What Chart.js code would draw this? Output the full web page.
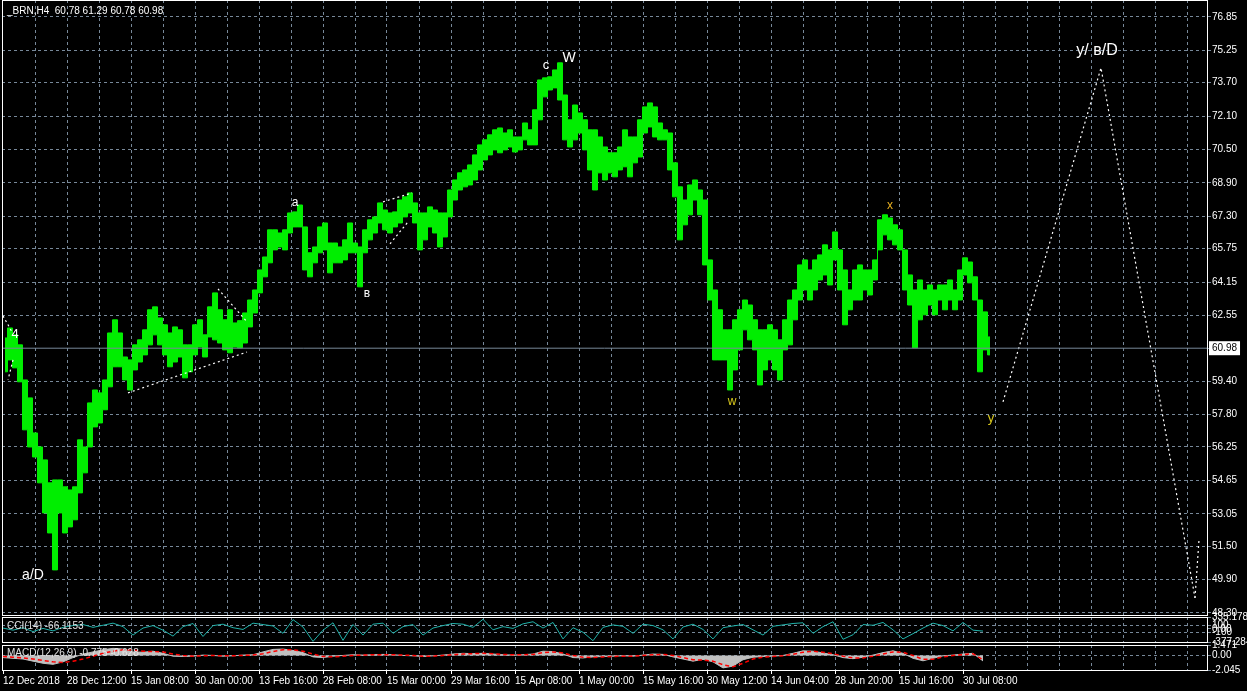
<!DOCTYPE html>
<html>
<head>
<meta charset="utf-8">
<script src="https://cdn.jsdelivr.net/npm/chart.js@4.4.1/dist/chart.umd.min.js"></script>
<style>
    html, body { margin: 0; padding: 0; background: #000; overflow: hidden; }
    body { width: 1247px; height: 691px; position: relative; }
    canvas { position: absolute; left: 0; }
</style>
</head>
<body>
<canvas id="mainChart" width="1247" height="616" style="top:0"></canvas>
<canvas id="cciChart" width="1247" height="45" style="top:605px"></canvas>
<canvas id="macdChart" width="1247" height="59" style="top:632px"></canvas>
<script>
// ---- data ----
// one sample = 5 H4 bars, price high / low of that group
const barStep = 5;
const highs = [
    61.47, 61.95, 61.62, 61.14, 59.46, 58.60, 56.92, 56.25, 55.63, 54.53,
    54.67, 54.67, 54.34, 54.19, 54.34, 56.59, 56.25, 58.36, 58.98, 58.84,
    59.46, 61.71, 62.34, 61.71, 60.56, 60.42, 61.14, 61.38, 61.86, 62.82,
    62.96, 62.43, 62.10, 61.71, 62.00, 61.86, 61.14, 61.14, 62.10, 62.34,
    61.62, 62.96, 63.63, 62.82, 62.34, 62.82, 62.19, 62.30, 62.67, 63.29,
    63.77, 64.73, 65.35, 66.65, 66.65, 66.50, 66.65, 67.46, 67.51, 67.84,
    66.79, 65.55, 65.83, 66.79, 66.98, 66.02, 66.02, 65.83, 66.17, 66.98,
    66.02, 65.83, 66.65, 67.13, 67.27, 67.94, 67.60, 67.46, 67.51, 68.08,
    68.23, 68.42, 67.94, 67.46, 67.46, 67.75, 67.60, 67.46, 67.46, 68.56,
    69.04, 69.38, 69.52, 69.76, 70.24, 70.72, 70.96, 71.20, 71.44, 71.53,
    71.29, 71.44, 71.10, 71.10, 71.77, 71.44, 72.40, 73.83, 73.93, 73.98,
    74.31, 74.65, 73.11, 71.92, 72.63, 72.25, 71.92, 71.44, 71.44, 71.10,
    70.62, 70.34, 70.34, 70.62, 71.44, 71.10, 71.10, 71.92, 72.54, 72.73,
    72.54, 71.77, 71.44, 71.29, 69.86, 68.71, 68.08, 68.80, 69.04, 68.56,
    68.08, 65.21, 63.77, 62.82, 61.86, 61.86, 62.34, 62.82, 63.29, 63.05,
    62.34, 61.86, 61.86, 62.10, 61.86, 61.38, 62.34, 63.29, 63.77, 64.97,
    65.21, 64.73, 65.21, 65.45, 65.93, 65.69, 66.55, 65.69, 64.73, 63.77,
    64.73, 64.97, 64.73, 64.73, 65.21, 67.13, 67.37, 67.22, 66.89, 66.65,
    65.69, 64.49, 63.77, 64.25, 63.77, 64.01, 63.77, 64.01, 64.01, 64.25,
    63.77, 64.73, 65.31, 65.11, 64.40, 63.29, 62.72, 61.52
];
const lows = [
    59.85, 60.42, 60.04, 59.37, 57.07, 56.25, 55.77, 54.53, 53.09, 52.13,
    50.36, 53.09, 52.13, 52.42, 52.76, 54.05, 55.01, 56.25, 57.21, 57.40,
    58.03, 59.13, 60.09, 60.09, 59.46, 58.98, 59.94, 60.32, 60.66, 61.14,
    61.62, 61.14, 60.66, 60.09, 60.32, 60.56, 59.56, 59.85, 60.66, 61.04,
    60.56, 61.52, 61.38, 61.23, 60.90, 60.76, 61.04, 61.00, 61.23, 62.00,
    62.67, 63.63, 64.40, 65.07, 65.69, 65.83, 65.69, 66.50, 66.79, 66.79,
    64.73, 64.40, 65.07, 65.55, 65.69, 64.59, 65.07, 65.07, 65.21, 65.55,
    65.55, 63.92, 65.55, 66.17, 66.50, 66.98, 66.65, 66.50, 66.79, 66.98,
    67.27, 67.46, 66.98, 65.69, 66.17, 66.79, 66.50, 65.83, 66.31, 67.27,
    68.08, 68.56, 68.71, 68.80, 69.04, 69.52, 70.00, 70.24, 70.48, 70.34,
    70.48, 70.62, 70.38, 70.48, 70.96, 70.72, 70.72, 71.92, 73.02, 73.35,
    73.45, 72.87, 70.96, 70.62, 70.96, 71.29, 70.48, 69.52, 68.56, 69.38,
    69.04, 69.38, 69.19, 69.52, 69.67, 69.19, 69.86, 70.14, 71.29, 71.58,
    71.10, 70.96, 70.96, 69.52, 68.23, 66.17, 66.89, 67.37, 68.08, 67.37,
    64.97, 63.29, 60.42, 60.42, 60.42, 58.98, 59.94, 60.90, 61.86, 61.38,
    60.90, 59.22, 59.94, 60.42, 59.94, 59.46, 60.90, 61.14, 62.34, 63.29,
    63.77, 63.29, 63.77, 64.25, 64.49, 64.01, 65.21, 63.77, 62.10, 62.82,
    63.29, 63.29, 63.77, 63.53, 64.25, 65.69, 66.41, 66.17, 65.93, 65.69,
    63.77, 63.05, 61.00, 62.34, 62.58, 63.05, 62.58, 63.29, 62.82, 63.29,
    62.82, 63.29, 64.49, 64.11, 63.29, 59.85, 60.90, 60.66
];
const lastClose = 60.98;

// indicator samples, one every 10 bars
const indStep = 10;
const cciValues = [
    20, -40, 30, -80, 10, -60, 40, 90, 120, 40,
    100, 160, 60, -180, 20, 90, -40, -210, 60, 150,
    -220, 90, 130, 30, -20, 160, 120, 80, -130, 260,
    50, -360, -40, 170, -330, 120, -180, 130, 160, -130,
    60, 120, -180, 20, 90, 150, 130, 40, 270, -30,
    60, 10, 140, 200, 20, 180, -290, 30, -100, -340,
    40, 110, 70, -130, 130, 90, -30, -290, 50, 130,
    -20, -290, 30, 80, 120, -30, -180, 70, 110, 150,
    170, -130, 60, 200, -300, -170, 120, 100, 180, -30,
    -290, -140, 20, 160, 90, -60, 180, -40, -66.1153
];
const macdMain = [
    -0.3, -0.4, -0.5, -0.8, -1.1, -1.25, -0.9, -0.3, 0.2, 0.5,
    0.8, 1.0, 0.9, 0.5, 0.45, 0.6, 0.3, -0.1, -0.15, -0.1,
    0.05, 0.0, -0.1, -0.05, 0.05, 0.1, 0.5, 0.85, 0.9, 0.7,
    0.4, -0.2, -0.3, -0.1, 0.0, 0.1, 0.05, 0.1, 0.15, 0.1,
    0.0, -0.05, -0.15, -0.05, 0.05, 0.2, 0.3, 0.25, 0.3, 0.2,
    0.1, 0.05, 0.1, 0.2, 0.6, 0.55, 0.2, -0.3, -0.35, -0.2,
    -0.15, -0.1, -0.05, -0.1, 0.05, 0.2, 0.15, -0.2, -0.5, -0.8,
    -0.55, -0.9, -1.75, -1.5, -0.6, -0.25, -0.15, -0.1, 0.0, 0.3,
    0.65, 0.6, 0.35, 0.1, -0.3, -0.45, -0.25, 0.05, 0.4, 0.65,
    0.3, -0.4, -0.75, -0.4, -0.05, 0.05, 0.2, 0.3, -0.775
];
const macdSignal = [
    -0.15, -0.25, -0.35, -0.5, -0.7, -0.9, -1.0, -0.8, -0.5, -0.1,
    0.3, 0.6, 0.8, 0.75, 0.6, 0.55, 0.5, 0.2, 0.0, -0.1,
    -0.05, 0.0, -0.05, -0.05, 0.0, 0.05, 0.25, 0.55, 0.8, 0.8,
    0.6, 0.2, -0.15, -0.2, -0.1, 0.0, 0.05, 0.1, 0.1, 0.1,
    0.05, 0.0, -0.1, -0.1, 0.0, 0.1, 0.2, 0.25, 0.3, 0.25,
    0.15, 0.1, 0.1, 0.15, 0.4, 0.5, 0.35, 0.0, -0.25, -0.3,
    -0.2, -0.15, -0.1, -0.1, 0.0, 0.1, 0.15, 0.0, -0.3, -0.6,
    -0.65, -0.8, -1.3, -1.6, -1.1, -0.5, -0.25, -0.15, -0.05, 0.15,
    0.45, 0.6, 0.45, 0.25, -0.1, -0.35, -0.35, -0.1, 0.2, 0.5,
    0.45, 0.0, -0.55, -0.55, -0.2, 0.0, 0.1, 0.25, -0.628
];

// wave markup: [bar, price] points
const waveA = [[0, 62.53], [9, 61.76]];
const waveB = [[10, 60.42], [5, 59.46]];
const triLow = [[125, 58.84], [244, 60.80]];
const triHigh = [[215, 63.82], [244, 62.24]];
const flagHigh = [[380, 67.99], [409, 68.42]];
const flagLow = [[387, 65.98], [405, 67.03]];
const projection = [[1000, 58.41], [1098, 74.41], [1192, 49.02]];
const projectionTail = [[1192, 49.02], [1196, 51.80]];

const waveLabels = [
    ['4', 12, 61.62], ['a/D', 30, 50.12], ['a', 292, 67.94], ['в', 364, 63.58],
    ['c', 543, 74.55], ['W', 566, 74.89], ['w', 729, 58.41], ['x', 887, 67.80],
    ['y', 988, 57.64], ['y/ в/D', 1094, 75.22]
];

// axes
const priceTicks = [76.85, 75.25, 73.70, 72.10, 70.50, 68.90, 67.30, 65.75, 64.15, 62.55,
    60.98, 59.40, 57.80, 56.25, 54.65, 53.05, 51.50, 49.90, 48.30];
const cciTicks = [335.1787, 100, 0, -100, -377.284];
const cciTickLabels = ['335.1787', '100', '0.00', '-100', '-377.284'];
const macdTicks = [1.471, 0, -2.045];
const macdTickLabels = ['1.471', '0.00', '-2.045'];
const dateLabels = ['12 Dec 2018', '28 Dec 12:00', '15 Jan 08:00', '30 Jan 00:00', '13 Feb 16:00',
    '28 Feb 08:00', '15 Mar 00:00', '29 Mar 16:00', '15 Apr 08:00', '1 May 00:00', '15 May 16:00',
    '30 May 12:00', '14 Jun 04:00', '28 Jun 20:00', '15 Jul 16:00', '30 Jul 08:00'];
const titleText = '_BRN,H4  60.78 61.29 60.78 60.98';

// ---- styling ----
const gridColor = '#778899';
const clear = 'rgba(0,0,0,0)';
const barGreen = '#00ee00';
const axisMin = -1, axisMax = 1204;
const gridStep = 32, labelStep = 64;
const labelStyle = {
    '4': ['#ffffff', 13], 'a/D': ['#ffffff', 14], 'a': ['#ffffff', 12], 'в': ['#ffffff', 12],
    'c': ['#ffffff', 13], 'W': ['#ffffff', 14], 'w': ['#d8c81c', 12], 'x': ['#e8b020', 12],
    'y': ['#d8c81c', 13], 'y/ в/D': ['#ffffff', 16]
};

Chart.defaults.font.family = '"Liberation Sans", Arial, sans-serif';
Chart.defaults.font.size = 10;
Chart.defaults.color = '#ffffff';

const gridTicks = [];
for (let v = 0; v <= axisMax; v += gridStep) gridTicks.push(v);

const dateLabelFor = (v) => (v % labelStep === 0 ? (dateLabels[v / labelStep] || '') : '');
const toPoints = (pairs) => pairs.map(([x, y]) => ({x: x, y: y}));

const framePlugin = {
    id: 'frame',
    afterDraw(chart) {
        const {ctx, chartArea: a} = chart;
        ctx.save();
        ctx.strokeStyle = '#ffffff';
        ctx.lineWidth = 1;
        ctx.strokeRect(a.left + 0.5, a.top + 0.5, a.right - a.left, a.bottom - a.top);
        ctx.restore();
    }
};

const xAxis = (height, withLabels) => ({
    type: 'linear',
    min: axisMin,
    max: axisMax,
    afterBuildTicks: (s) => { s.ticks = gridTicks.map((v) => ({value: v})); },
    afterFit: (s) => { s.height = height; s.paddingLeft = 0; s.paddingRight = 0; },
    ticks: {
        display: withLabels,
        autoSkip: false,
        maxRotation: 0,
        minRotation: 0,
        align: 'start',
        padding: 1,
        callback: (v) => dateLabelFor(v)
    },
    grid: {
        color: (c) => (c.tick && c.tick.value > 0 ? gridColor : clear),
        drawTicks: withLabels,
        tickLength: 4,
        tickColor: (c) => (c.tick && dateLabelFor(c.tick.value) ? '#ffffff' : clear)
    },
    border: {display: false, dash: [3, 3]}
});

const yAxis = (min, max, ticks, labelFn, gridFn, extraTicks) => ({
    position: 'right',
    min: min,
    max: max,
    afterBuildTicks: (s) => { s.ticks = ticks.map((v) => ({value: v})); },
    afterFit: (s) => { s.width = 40; s.paddingTop = 0; s.paddingBottom = 0; },
    ticks: Object.assign({autoSkip: false, padding: 1, callback: labelFn}, extraTicks || {}),
    grid: {
        color: (c) => (c.tick && gridFn(c.tick.value) ? gridColor : clear),
        tickLength: 4,
        tickColor: gridColor
    },
    border: {display: false, dash: [3, 3]}
});

const baseOptions = (padTop) => ({
    responsive: false,
    animation: false,
    events: [],
    layout: {padding: {left: 2, top: padTop, right: 0, bottom: 0}},
    plugins: {legend: {display: false}, tooltip: {enabled: false}},
    elements: {point: {radius: 0}, line: {tension: 0}}
});

// ---- main price panel ----
const mainText = {
    id: 'mainText',
    afterDatasetsDraw(chart) {
        const {ctx, chartArea: a, scales} = chart;
        ctx.save();
        ctx.textBaseline = 'middle';
        ctx.textAlign = 'left';
        ctx.font = '10px "Liberation Sans"';
        ctx.fillStyle = '#ffffff';
        ctx.fillText(titleText, a.left + 5, a.top + 11);
        ctx.textAlign = 'center';
        waveLabels.forEach(([text, bar, price]) => {
            const st = labelStyle[text];
            ctx.fillStyle = st[0];
            ctx.font = st[1] + 'px "Liberation Sans"';
            ctx.fillText(text, scales.x.getPixelForValue(bar), scales.y.getPixelForValue(price));
        });
        ctx.restore();
    }
};

const dashLine = (pairs) => ({
    data: toPoints(pairs),
    borderColor: '#ffffff',
    borderWidth: 1.2,
    borderDash: [2, 3],
    fill: false
});

const mainOptions = baseOptions(0);
mainOptions.scales = {
    x: xAxis(1, false),
    y: yAxis(48.20, 77.66, priceTicks, (v) => v.toFixed(2), (v) => v !== lastClose, {
        color: (c) => (c.tick && c.tick.value === lastClose ? '#000000' : '#ffffff'),
        showLabelBackdrop: (c) => !!(c.tick && c.tick.value === lastClose),
        backdropColor: '#ffffff',
        backdropPadding: {top: 1, bottom: 1, left: 3, right: 3}
    })
};

new Chart(document.getElementById('mainChart'), {
    type: 'line',
    data: {
        datasets: [
            {data: [{x: axisMin, y: lastClose}, {x: axisMax, y: lastClose}], borderColor: gridColor, borderWidth: 1, fill: false},
            dashLine(waveA), dashLine(waveB), dashLine(triLow), dashLine(triHigh),
            dashLine(flagHigh), dashLine(flagLow), dashLine(projection), dashLine(projectionTail),
            {
                data: highs.map((v, i) => ({x: i * barStep + 2, y: v})),
                borderColor: barGreen, borderWidth: 1, backgroundColor: barGreen,
                fill: '+1', stepped: 'middle'
            },
            {
                data: lows.map((v, i) => ({x: i * barStep + 2, y: v})),
                borderColor: barGreen, borderWidth: 1, fill: false, stepped: 'middle'
            }
        ]
    },
    options: mainOptions,
    plugins: [framePlugin, mainText]
});

// ---- CCI panel ----
const panelText = (text, dy) => ({
    id: 'panelText',
    afterDatasetsDraw(chart) {
        const {ctx, chartArea: a} = chart;
        ctx.save();
        ctx.textBaseline = 'middle';
        ctx.font = '10px "Liberation Sans"';
        ctx.fillStyle = '#e4e4e4';
        ctx.fillText(text, a.left + 5, a.top + dy);
        ctx.restore();
    }
});

const cciOptions = baseOptions(12);
cciOptions.scales = {
    x: xAxis(8, false),
    y: yAxis(-377.284, 335.1787, cciTicks, (v, i) => cciTickLabels[i], (v) => Math.abs(v) === 100)
};

new Chart(document.getElementById('cciChart'), {
    type: 'line',
    data: {
        datasets: [{
            data: cciValues.map((v, i) => ({x: i * indStep, y: v})),
            borderColor: '#20b2aa', borderWidth: 1, fill: false
        }]
    },
    options: cciOptions,
    plugins: [framePlugin, panelText('CCI(14) -66.1153', 9)]
});

// ---- MACD panel ----
const macdOptions = baseOptions(13);
macdOptions.scales = {
    x: xAxis(21, true),
    y: yAxis(-2.045, 1.471, macdTicks, (v, i) => macdTickLabels[i], (v) => v === 0)
};

new Chart(document.getElementById('macdChart'), {
    type: 'line',
    data: {
        datasets: [
            {
                data: macdSignal.map((v, i) => ({x: i * indStep, y: v})),
                borderColor: '#ff0000', borderWidth: 1.5, borderDash: [4, 3], fill: false
            },
            {
                data: macdMain.map((v, i) => ({x: i * indStep, y: v})),
                borderColor: '#c0c0c0', borderWidth: 1, backgroundColor: '#c0c0c0', fill: 'origin'
            }
        ]
    },
    options: macdOptions,
    plugins: [framePlugin, panelText('MACD(12,26,9) -0.775 -0.628', 8)]
});
</script>
</body>
</html>
